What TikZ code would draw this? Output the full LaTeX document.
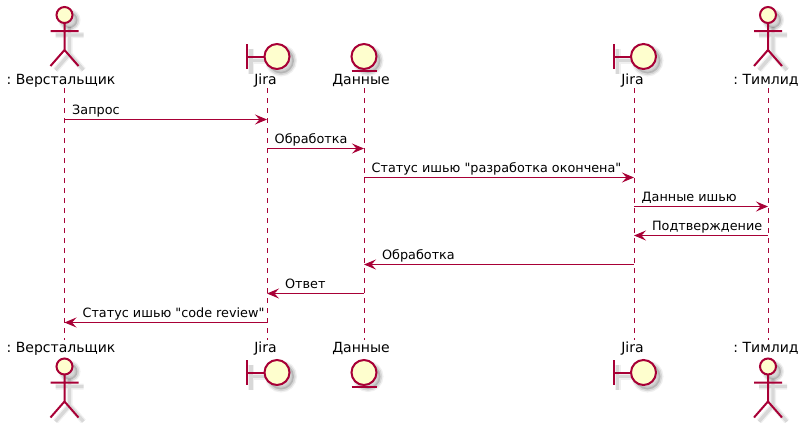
\documentclass[tikz,border=0pt]{standalone}
\usepackage{fontspec}
\setmainfont[Ligatures=TeXOff]{DejaVu Sans}
\usepackage{tikz}
\usetikzlibrary{arrows.meta, positioning}
\definecolor{umlline}{HTML}{A80036}
\definecolor{umlfill}{HTML}{FEFECE}
\frenchspacing
\tikzset{
	fig/.style={draw=umlline, line width=1.5pt, fill=umlfill},
	figline/.style={draw=umlline, line width=1.5pt},
	shade1/.style={draw=black, line width=4.5pt, opacity=.06, fill=black, fill opacity=.06},
	shade2/.style={draw=black, line width=2.5pt, opacity=.1, fill=black, fill opacity=.1},
	who/.style={inner sep=0pt, font=\fontsize{10.5pt}{12pt}\selectfont},
	life/.style={draw=umlline, line width=.75pt, dash pattern=on 3.75pt off 3.75pt},
	msg/.style={draw=umlline, line width=.75pt, -{Stealth[length=9pt, width=7.5pt, inset=3.4pt, umlline]}},
	txt/.style={inner sep=0pt, anchor=base west, font=\fontsize{9.6pt}{12pt}\selectfont, yshift=4.1pt},
	actorfig/.pic={
		\foreach \s in {shade1, shade2} {
			\path[\s] (5,5) circle (8);
			\path[\s, fill=none] (5,12) -- (5,39) (-9,20) -- (19,20) (5,39) -- (-9,55) (5,39) -- (19,55);
		}
		\path[fig] (0,0) circle (8);
		\path[figline] (0,8) -- (0,35) (-14,16) -- (14,16) (0,35) -- (-14,51) (0,35) -- (14,51);
	},
	boundfig/.pic={
		\foreach \s in {shade1, shade2} {
			\path[\s] (14,4) circle (13);
			\path[\s, fill=none] (-16,-8) -- (-16,17) (-16,4) -- (1,4);
		}
		\path[figline] (-20,-12.5) -- (-20,12.5) (-20,0) -- (-3,0);
		\path[fig] (10,0) circle (12.5);
	},
	entityfig/.pic={
		\foreach \s in {shade1, shade2} {
			\path[\s] (4,4) circle (12.5);
		}
		\path[fig] (0,0) circle (12.5);
		\path[figline] (-12.5,14) -- (12.5,14);
	},
}

\begin{document}
\begin{tikzpicture}[x=.75pt, y=-.75pt]
	\useasboundingbox (0,0) rectangle (804,422);
	% figures
	\foreach \x/\ya/\yb in {64.5/15/366.5, 768/15/366.5} {
		\pic at (\x,\ya) {actorfig};
		\pic at (\x,\yb) {actorfig};
	}
	\foreach \x/\ya/\yb in {267/56.5/372.5, 633.5/56.5/372.5} {
		\pic at (\x,\ya) {boundfig};
		\pic at (\x,\yb) {boundfig};
	}
	\pic at (364,56.5) {entityfig};
	\pic at (364,372.5) {entityfig};
	% names
	\foreach \n/\x/\t in {a/61/: Верстальщик, b/265.5/Jira, c/361/Данные, d/632.5/Jira, e/766/: Тимлид} {
		\node[who] (\n-top) at (\x,80.7) {\t};
		\node[who] (\n-bot) at (\x,348.7) {\t};
	}
	% lifelines
	\foreach \n/\x in {a/64.5, b/267, c/364, d/634, e/768} {
		\coordinate (\n-from) at (\x,88);
		\coordinate (\n-to) at (\x,340);
		\draw[life] (\n-from) -- (\n-to);
		\foreach \r/\y in {1/119.5, 2/148.5, 3/177.5, 4/206.5, 5/235.5, 6/264.5, 7/293.5, 8/322.5}
			\coordinate (\n-\r) at (\x,\y);
	}
	% messages
	\path
	(a-1) edge[msg] node [txt, pos=0, xshift=5.4pt] {Запрос} (b-1)
	(b-2) edge[msg] node [txt, pos=0, xshift=5.4pt] {Обработка} (c-2)
	(c-3) edge[msg] node [txt, pos=0, xshift=5.4pt] {Статус ишью "разработка окончена"} (d-3)
	(d-4) edge[msg] node [txt, pos=0, xshift=5.4pt] {Данные ишью} (e-4)
	(e-5) edge[msg] node [txt, pos=1, xshift=13.2pt] {Подтверждение} (d-5)
	(d-6) edge[msg] node [txt, pos=1, xshift=13.2pt] {Обработка} (c-6)
	(c-7) edge[msg] node [txt, pos=1, xshift=13.2pt] {Ответ} (b-7)
	(b-8) edge[msg] node [txt, pos=1, xshift=13.2pt] {Статус ишью "code review"} (a-8)
	;
\end{tikzpicture}
\end{document}
